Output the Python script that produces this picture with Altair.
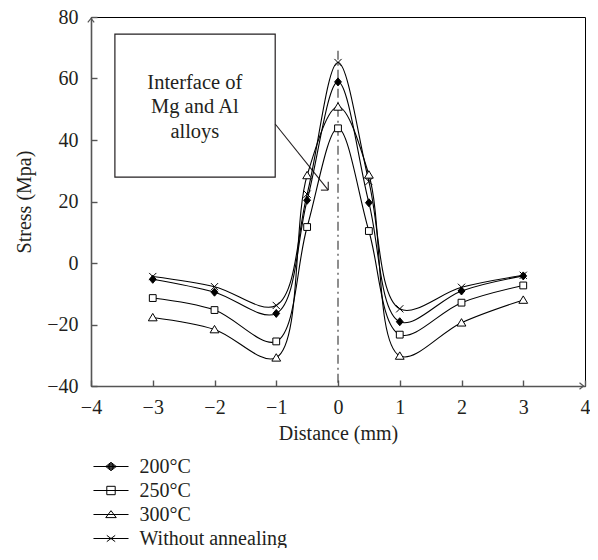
import altair as alt
import pandas as pd

# ---- data ----
distance = [-3, -2, -1, -0.5, 0, 0.5, 1, 2, 3]
stress_200 = [-5.3, -9.5, -16.4, 20.4, 58.9, 19.6, -19.1, -9.1, -4.2]
stress_250 = [-11.4, -15.3, -25.5, 11.7, 43.8, 10.4, -23.3, -12.9, -7.3]
stress_300 = [-17.7, -21.6, -30.8, 28.5, 50.8, 28.7, -30.2, -19.4, -12.0]
stress_none = [-4.4, -7.7, -13.8, 22.4, 65.2, 26.5, -14.9, -7.9, -4.0]
series_names = ["200°C", "250°C", "300°C", "Without annealing"]

x_ticks = [-4, -3, -2, -1, 0, 1, 2, 3, 4]
y_ticks = [-40, -20, 0, 20, 40, 60, 80]

annot_lines = ["Interface of", "Mg and Al", "alloys"]
annot_text_y = [58.6, 50.6, 42.5]
annot_text_x = -2.318
annot_box = {"x": -3.613, "x2": -1.017, "y": 74.4, "y2": 27.9}
arrow_x = [-1.017, -0.158, -0.158]
arrow_y = [45.2, 23.7, 23.7]
arrow_x2 = [-0.158, -0.158, -0.277]
arrow_y2 = [23.7, 26.4, 23.7]
interface_line = {"x": 0, "y": 69, "y2": -40}

# ---- styles ----
FONT = "Liberation Serif"
marker_paths = [
    "M0,-1L0.85,0L0,1L-0.85,0Z",
    "M-0.85,-0.85H0.85V0.85H-0.85Z",
    "M0,-1L1.1,0.85H-1.1Z",
    "M-0.9,-0.9L0.9,0.9M-0.9,0.9L0.9,-0.9",
]
legend_paths = [
    "M-2.19,0H2.19M0,-0.525L0.656,0L0,0.525L-0.656,0ZM0,-0.39L0.49,0L0,0.39L-0.49,0Z"
    "M0,-0.26L0.33,0L0,0.26L-0.33,0ZM0,-0.13L0.16,0L0,0.13L-0.16,0Z",
    "M-2.19,0H2.19M-0.525,-0.525H0.525V0.525H-0.525Z",
    "M-2.19,0H2.19M0,-0.48L0.656,0.39H-0.656Z",
    "M-2.19,0H2.19M-0.525,-0.39L0.525,0.39M-0.525,0.39L0.525,-0.39",
]
fills = ["black", "white", "white", "white"]

rows = []
for name, vals in zip(series_names, [stress_200, stress_250, stress_300, stress_none]):
    for d, v in zip(distance, vals):
        rows.append({"distance": d, "stress": v, "series": name})
df = pd.DataFrame(rows)

xscale = alt.Scale(domain=[-4, 4], nice=False, zero=False)
yscale = alt.Scale(domain=[-40, 80], nice=False, zero=False)

x_enc = alt.X("distance:Q", scale=xscale, title="Distance (mm)",
              axis=alt.Axis(values=x_ticks, tickSize=alt.ExprRef(expr="-6"), labelPadding=17,
                            titleY=53, titleBaseline="alphabetic", format="d"))
y_enc = alt.Y("stress:Q", scale=yscale, title="Stress (Mpa)",
              axis=alt.Axis(values=y_ticks, tickSize=alt.ExprRef(expr="-6"), labelPadding=19,
                            titleX=-67, titleY=184.5, titleAngle=-90, titleBaseline="middle",
                            titleAlign="center", format="d"))

base = alt.Chart(df)

lines = base.mark_line(interpolate="catmull-rom", color="black", strokeWidth=1.1).encode(
    x=x_enc, y=y_enc, detail="series:N"
)

points = base.mark_point(size=64, stroke="black", strokeWidth=1, opacity=1).encode(
    x="distance:Q", y="stress:Q",
    shape=alt.Shape("series:N", scale=alt.Scale(domain=series_names, range=marker_paths), legend=None),
    fill=alt.Fill("series:N", scale=alt.Scale(domain=series_names, range=fills), legend=None),
)

legend_layer = base.mark_point(
    size=256, stroke="black", strokeWidth=1, opacity=0, filled=False
).encode(
    x="distance:Q", y="stress:Q",
    shape=alt.Shape("series:N", scale=alt.Scale(domain=series_names, range=legend_paths),
                    legend=alt.Legend(title=None, orient="none", legendX=10, legendY=439.5,
                                      labelFont=FONT, labelFontSize=20, labelColor="#231f20",
                                      labelOffset=18.5, rowPadding=4, padding=0, symbolSize=256,
                                      symbolStrokeColor="black", symbolStrokeWidth=1,
                                      symbolOpacity=1)),
)

vline = alt.Chart(pd.DataFrame([interface_line])).mark_rule(
    color="#444", strokeWidth=1.2, strokeDash=[9, 4, 2, 4]
).encode(x="x:Q", y="y:Q", y2="y2:Q")

box = alt.Chart(pd.DataFrame([annot_box])).mark_rect(
    fill="white", stroke="#231f20", strokeWidth=1.2
).encode(x="x:Q", x2="x2:Q", y="y:Q", y2="y2:Q")

text = alt.Chart(pd.DataFrame({"t": annot_lines, "y": annot_text_y, "x": [annot_text_x] * 3})).mark_text(
    font=FONT, fontSize=20.5, color="#231f20", align="center", baseline="middle"
).encode(x="x:Q", y="y:Q", text="t:N")

arrow = alt.Chart(pd.DataFrame({"x": arrow_x, "y": arrow_y, "x2": arrow_x2, "y2": arrow_y2})).mark_rule(
    color="#231f20", strokeWidth=1.1
).encode(x="x:Q", y="y:Q", x2="x2:Q", y2="y2:Q")

axis_arrows = alt.Chart(pd.DataFrame({
    "x": [-4, 3.95], "y": [79, -40],
    "s": ["M-0.8,0.6L0,-0.4L0.8,0.6", "M-0.6,-0.8L0.4,0L-0.6,0.8"]})).mark_point(
    size=64, stroke="#555", strokeWidth=1.2, filled=False, opacity=1
).encode(x="x:Q", y="y:Q", shape=alt.Shape("s:N", scale=None, legend=None))

chart = alt.layer(vline, box, text, arrow, lines, points, legend_layer, axis_arrows).resolve_scale(
    shape="independent", fill="independent"
).properties(
    width=494, height=369,
    autosize=alt.AutoSizeParams(type="none"),
    padding={"left": 83, "top": 9, "right": 5, "bottom": 162},
).configure_view(
    stroke="black", strokeWidth=1
).configure_axis(
    labelFont=FONT, labelFontSize=20, labelColor="#231f20",
    titleFont=FONT, titleFontSize=20, titleColor="#231f20", titleFontWeight="normal",
    domainColor="#555", domainWidth=1.6, tickColor="#555", tickWidth=1.4,
    grid=False, zindex=1, labelFlush=False, labelOverlap=False,
)

chart.save("out.html", embed_options={"renderer": "svg", "actions": False})
